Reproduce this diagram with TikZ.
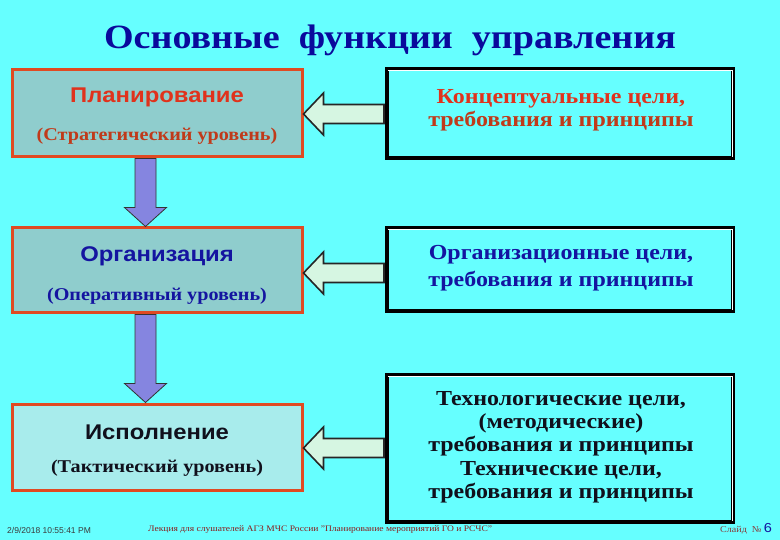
\documentclass[tikz,border=0pt]{standalone}
\usepackage{fontspec}
\setmainfont{Liberation Serif}[FakeStretch=1.12]
\newfontfamily\sansf{Liberation Sans}[FakeStretch=1.12]
\newfontfamily\footsans{Liberation Sans}
\usetikzlibrary{calc}
\definecolor{bg}{HTML}{66FFFF}
\definecolor{boxA}{HTML}{8FCDCD}
\definecolor{boxC}{HTML}{A8ECEC}
\definecolor{boxred}{HTML}{E04A22}
\definecolor{redt}{HTML}{E0321C}
\definecolor{brownt}{HTML}{C03A1A}
\definecolor{bluet}{HTML}{1414A0}
\definecolor{blackt}{HTML}{10101C}
\definecolor{titleblue}{HTML}{0A0A9C}
\definecolor{downfill}{HTML}{8585E0}
\definecolor{leftfill}{HTML}{D6F6E2}
\definecolor{footred}{HTML}{8A1C1C}
\definecolor{footgray}{HTML}{3A3A3A}
\begin{document}
\begin{tikzpicture}[x=1pt,y=-1pt,
  lbox/.style={draw=boxred, line width=3pt, minimum width=290pt, inner sep=0pt},
  rbox/.style={draw=black, line width=4pt, minimum width=346pt, inner sep=0pt, fill=bg},
  headtxt/.style={font=\sansf\bfseries\fontsize{21.3}{25}\selectfont, inner sep=0pt},
  subtxt/.style={font=\bfseries\fontsize{18}{21}\selectfont, inner sep=0pt},
  rtxt/.style={font=\bfseries\fontsize{21.4}{23}\selectfont, align=center, inner sep=0pt},
  downarr/.style={fill=downfill, draw=black!80, line width=0.8pt, line join=miter},
  leftarr/.style={fill=leftfill, draw=black!85, line width=1.6pt, line join=miter},
  foot/.style={font=\fontsize{8.5}{9}\selectfont, inner sep=0pt, anchor=west}
]
\fill[bg] (0,0) rectangle (780,540);
\useasboundingbox (0,0) rectangle (780,540);

% title
\node[font=\bfseries\fontsize{34}{40}\selectfont, text=titleblue, inner sep=0pt] (title) at (390,40) {Основные\ \ функции\ \ управления};

% left boxes
\node[lbox, fill=boxA, minimum height=87pt] (p) at (157,113.5) {};
\node[lbox, fill=boxA, minimum height=85pt] (o) at (157,270.5) {};
\node[lbox, fill=boxC, minimum height=86pt] (e) at (157,447) {};

\node[headtxt, text=redt] (pt) at (157,97) {Планирование};
\node[subtxt, text=brownt] (ps) at (157,136) {(Стратегический уровень)};
\node[headtxt, text=bluet] (ot) at (157,256) {Организация};
\node[subtxt, text=bluet] (os) at (157,296) {(Оперативный уровень)};
\node[headtxt, text=blackt] (et) at (157,432) {Исполнение};
\node[subtxt, text=blackt] (es) at (157,468) {(Тактический уровень)};

% right boxes
\node[rbox, minimum height=89pt] (r1) at (560,113.5) {};
\node[rbox, minimum height=83pt] (r2) at (560,269.5) {};
\node[rbox, minimum height=147pt] (r3) at (560,448.5) {};
\foreach \r in {r1,r2,r3}{
  \draw[white, line width=0.8pt] ($(\r.north west)+(3,3)$) -- ($(\r.north east)+(-3,3)$) -- ($(\r.south east)+(-3,-3)$);
}

\node[rtxt, text=redt] (r1t) at (561,110) {Концептуальные цели,\\ \textcolor{brownt}{требования и принципы}};
\node[rtxt, text=bluet, font=\bfseries\fontsize{21.4}{27}\selectfont] (r2t) at (561,268) {Организационные цели,\\ требования и принципы};
\node[rtxt, text=blackt, font=\bfseries\fontsize{21.4}{23.3}\selectfont] (r3t) at (561,447) {Технологические цели,\\ (методические)\\ требования и принципы\\ Технические цели,\\ требования и принципы};

% down arrows
\coordinate (a1t) at ($(p.south)+(-11.5,0)$);
\coordinate (a1b) at ($(o.north)+(-11.5,0)$);
\coordinate (a2t) at ($(o.south)+(-11.5,0)$);
\coordinate (a2b) at ($(e.north)+(-11.5,0)$);
\foreach \t/\b in {a1t/a1b,a2t/a2b}{
  \draw[downarr] ($(\t)+(-10.5,0)$) -- ($(\b)+(-10.5,-19)$) -- ($(\b)+(-21,-19)$) -- (\b)
    -- ($(\b)+(21,-19)$) -- ($(\b)+(10.5,-19)$) -- ($(\t)+(10.5,0)$) -- cycle;
}

% left arrows
\coordinate (l1t) at ($(p.east)+(0,0.5)$);
\coordinate (l1b) at (r1.west |- l1t);
\coordinate (l2t) at ($(o.east)+(0,2.5)$);
\coordinate (l2b) at (r2.west |- l2t);
\coordinate (l3t) at ($(e.east)+(0,1)$);
\coordinate (l3b) at (r3.west |- l3t);
\foreach \t/\b in {l1t/l1b,l2t/l2b,l3t/l3b}{
  \draw[leftarr] (\t) -- ($(\t)+(20,-21)$) -- ($(\t)+(20,-9.5)$) -- ($(\b)+(-1,-9.5)$)
    -- ($(\b)+(-1,9.5)$) -- ($(\t)+(20,9.5)$) -- ($(\t)+(20,21)$) -- cycle;
}

% footer
\node[foot, text=footgray, font=\footsans\fontsize{8.5}{9}\selectfont] (fdate) at (7,530) {2/9/2018 10:55:41 PM};
\node[foot, text=footred] (flect) at (148,530) {Лекция для слушателей АГЗ МЧС России "Планирование мероприятий ГО и РСЧС"};
\node[foot, text=footred!70!gray, font=\fontsize{9}{10}\selectfont] (fslide) at (720,530) {Слайд \ №};
\node[font=\sansf\fontsize{13}{14}\selectfont, text=bluet, inner sep=0pt] (fnum) at (768,528) {6};
\end{tikzpicture}
\end{document}
